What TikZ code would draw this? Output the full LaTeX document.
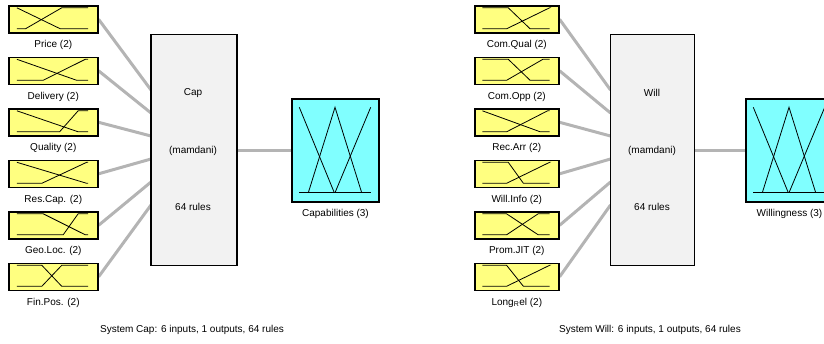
\documentclass[tikz,border=0pt]{standalone}
\usepackage{fontspec}
\setmainfont{Liberation Sans}
\usetikzlibrary{calc,backgrounds}
\definecolor{inyel}{HTML}{FFFF80}
\definecolor{outcy}{HTML}{80FFFF}
\definecolor{mainbg}{HTML}{F2F2F2}
\definecolor{conngray}{HTML}{B4B4B4}
\tikzset{
  inbox/.style={draw=black, line width=1.6pt, fill=inyel, minimum height=27pt, inner sep=0pt, anchor=north west},
  mainbox/.style={draw=black, line width=1.4pt, fill=mainbg, inner sep=0pt},
  outbox/.style={draw=black, line width=1.8pt, fill=outcy, inner sep=0pt, minimum width=87pt, minimum height=103pt},
  mf/.style={draw=black, line width=0.8pt},
  conn/.style={draw=conngray, line width=3pt},
  lbl/.style={font=\fontsize{10}{12}\selectfont, inner sep=0pt},
}
% name, x, y(top), width, label, Z start, Z end, S start, S end
\newcommand\mfbox[9]{%
  \node[inbox, minimum width=#4pt] (#1) at (#2,#3) {};
  \begin{scope}[shift={(#2,#3)}]
    \draw[mf] ({0.1*#4},2.8) -- ({0.1*#4+#6*0.8*#4},2.8) -- ({0.1*#4+#7*0.8*#4},23.8) -- ({0.9*#4},23.8);
    \draw[mf] ({0.1*#4},23.8) -- ({0.1*#4+#8*0.8*#4},23.8) -- ({0.1*#4+#9*0.8*#4},2.8) -- ({0.9*#4},2.8);
  \end{scope}
  \node[lbl] (#1-l) at ($(#1.south)+(0,11.5)$) {#5};
}
% name, cx, cy, label
\newcommand\outmf[4]{%
  \node[outbox] (#1) at (#2,#3) {};
  \begin{scope}[shift={(#2,#3)}]
    \draw[mf] (-36.2,-43.2) -- (-1.2,42.2);
    \draw[mf] (-27.2,42.2) -- (-0.5,-43.2) -- (26.2,42.2);
    \draw[mf] (-0.5,42.2) -- (35.2,-43.2);
    \draw[mf] (-36.2,42.2) -- (35.2,42.2);
  \end{scope}
  \node[lbl] (#1-l) at ($(#1.south)+(0,11.5)$) {#4};
}
\begin{document}
\begin{tikzpicture}[x=1pt, y=-1pt]
\useasboundingbox (0,0) rectangle (824,343);
\clip (0,0) rectangle (824,343);

% ---------- System Cap ----------
\mfbox{price}{8}{5}{89}{Price (2)}{0}{0.61}{0.12}{0.63}
\mfbox{deliv}{8}{56.5}{89}{Delivery (2)}{0}{0.84}{0.37}{0.96}
\mfbox{qual}{8}{108}{89}{Quality (2)}{0}{0.86}{0.6}{0.86}
\mfbox{rescap}{8}{159.5}{89}{Res.Cap. (2)}{0}{0.98}{0.35}{0.98}
\mfbox{geoloc}{8}{211}{89}{Geo.Loc. (2)}{0.37}{0.96}{0.65}{0.86}
\mfbox{finpos}{8}{262.5}{89}{Fin.Pos. (2)}{0.35}{0.63}{0.35}{0.63}

\node[mainbox, minimum width=86pt, minimum height=231pt] (cap) at (194,150) {};
\node[lbl] (capname) at (193,93) {Cap};
\node[lbl] (captype) at (193,151) {(mamdani)};
\node[lbl] (caprules) at (193,207) {64 rules};

\outmf{capout}{335.5}{150.5}{Capabilities (3)}

\coordinate (ci1) at (151,90);
\coordinate (ci2) at (151,113);
\coordinate (ci3) at (151,136);
\coordinate (ci4) at (151,159);
\coordinate (ci5) at (151,182);
\coordinate (ci6) at (151,205);

\begin{scope}[on background layer]
  \draw[conn] (price.east) -- (ci1);
  \draw[conn] (deliv.east) -- (ci2);
  \draw[conn] (qual.east) -- (ci3);
  \draw[conn] (rescap.east) -- (ci4);
  \draw[conn] (geoloc.east) -- (ci5);
  \draw[conn] (finpos.east) -- (ci6);
  \draw[conn] (cap.east |- capout.west) -- (capout.west);
\end{scope}

\node[lbl] (capcap) at (192,330) {System Cap: 6 inputs, 1 outputs, 64 rules};

% ---------- System Will ----------
\mfbox{comqual}{474}{5}{84}{Com.Qual (2)}{0.385}{0.71}{0.36}{1.0}
\mfbox{comopp}{474}{56.5}{84}{Com.Opp (2)}{0.385}{0.71}{0.36}{0.9}
\mfbox{recarr}{474}{108}{84}{Rec.Arr (2)}{0}{0.86}{0.36}{0.97}
\mfbox{willinfo}{474}{159.5}{84}{Will.Info (2)}{0.385}{0.61}{0.36}{1.0}
\mfbox{promjit}{474}{211}{84}{Prom.JIT (2)}{0.36}{0.83}{0.36}{0.83}
\mfbox{longrel}{474}{262.5}{84}{Long\textsubscript{R}el (2)}{0.36}{0.61}{0.36}{1.0}

\node[mainbox, minimum width=84pt, minimum height=231pt] (will) at (652.4,150) {};
\node[lbl] (willname) at (652,93) {Will};
\node[lbl] (willtype) at (652,151) {(mamdani)};
\node[lbl] (willrules) at (652,207) {64 rules};

\outmf{willout}{789.5}{150.5}{Willingness (3)}

\coordinate (wi1) at (610.5,90);
\coordinate (wi2) at (610.5,113);
\coordinate (wi3) at (610.5,136);
\coordinate (wi4) at (610.5,159);
\coordinate (wi5) at (610.5,182);
\coordinate (wi6) at (610.5,205);

\begin{scope}[on background layer]
  \draw[conn] (comqual.east) -- (wi1);
  \draw[conn] (comopp.east) -- (wi2);
  \draw[conn] (recarr.east) -- (wi3);
  \draw[conn] (willinfo.east) -- (wi4);
  \draw[conn] (promjit.east) -- (wi5);
  \draw[conn] (longrel.east) -- (wi6);
  \draw[conn] (will.east |- willout.west) -- (willout.west);
\end{scope}

\node[lbl] (willcap) at (650,330) {System Will: 6 inputs, 1 outputs, 64 rules};
\end{tikzpicture}
\end{document}
